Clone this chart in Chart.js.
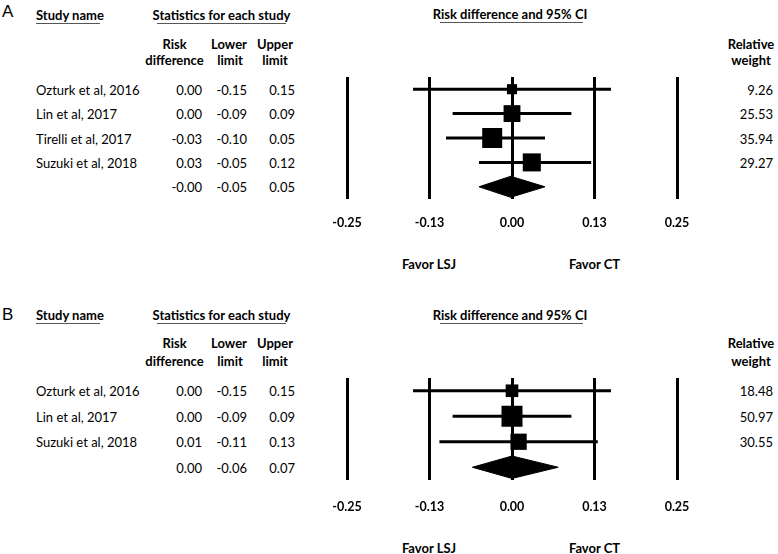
<!DOCTYPE html>
<html>
<head>
<meta charset="utf-8">
<script src="https://cdn.jsdelivr.net/npm/chart.js@4.4.1/dist/chart.umd.min.js"></script>
<style>
  html, body { margin: 0; padding: 0; background: #fff; }
  #page { position: relative; width: 778px; height: 554px; overflow: hidden;
          font-family: Lato, "Open Sans", sans-serif; color: #000; }
  .t { position: absolute; white-space: nowrap; line-height: 1; font-size: 13px;
       transform: translateY(-50%); }
  .b { font-weight: bold; }
  .letter { font-family: "Liberation Sans", Arial, sans-serif; font-size: 17px; }
  .rule { position: absolute; height: 1px; background: #555; }
  canvas { position: absolute; }
</style>
</head>
<body>
<div id="page"></div>
<script>
"use strict";

// ---- panel A ----
const studiesA = ["Ozturk et al, 2016", "Lin et al, 2017", "Tirelli et al, 2017", "Suzuki et al, 2018"];
const riskDiffA = [0.00, 0.00, -0.03, 0.03];
const lowerA = [-0.15, -0.09, -0.10, -0.05];
const upperA = [0.15, 0.09, 0.05, 0.12];
const weightA = [9.26, 25.53, 35.94, 29.27];
const pooledA = { est: -0.002, lower: -0.05, upper: 0.05 };

// ---- panel B ----
const studiesB = ["Ozturk et al, 2016", "Lin et al, 2017", "Suzuki et al, 2018"];
const riskDiffB = [0.00, 0.00, 0.01];
const lowerB = [-0.15, -0.09, -0.11];
const upperB = [0.15, 0.09, 0.13];
const weightB = [18.48, 50.97, 30.55];
const pooledB = { est: 0.00, lower: -0.06, upper: 0.07 };

// shared axis
const tickValues = [-0.25, -0.125, 0, 0.125, 0.25];
const tickLabels = ["-0.25", "-0.13", "0.00", "0.13", "0.25"];
const favorLabels = ["Favor LSJ", "Favor CT"];

const page = document.getElementById("page");
const W = 778;

function txt(x, y, s, align, cls) {
  const el = document.createElement("div");
  el.className = "t" + (cls ? " " + cls : "");
  el.textContent = s;
  el.style.top = y + "px";
  if (align === "right") {
    el.style.right = (W - x) + "px";
  } else if (align === "center") {
    el.style.left = x + "px";
    el.style.transform = "translate(-50%, -50%)";
  } else {
    el.style.left = x + "px";
  }
  page.appendChild(el);
  return el;
}

function rule(x1, x2, y) {
  const el = document.createElement("div");
  el.className = "rule";
  el.style.left = x1 + "px";
  el.style.width = (x2 - x1) + "px";
  el.style.top = y + "px";
  page.appendChild(el);
}

// --------------------------------------------------------------------- //
// one forest panel: table text in HTML, plot through Chart.js            //
// --------------------------------------------------------------------- //

function buildPanel(g, d) {
  const n = d.studies.length;
  const rowH = (g.lineBottom - g.lineTop) / (n + 1);
  const rowY = (i) => g.lineTop + (i + 0.5) * rowH + 0.6;

  txt(2, g.letterY, g.letter, "left", "letter");
  txt(36, g.titleY, "Study name", "left", "b");
  txt(221.5, g.titleY, "Statistics for each study", "center", "b");
  txt(510, g.titleY - 0.5, "Risk difference and 95% CI", "center", "b");
  rule(36, 100, g.titleY + 8);
  rule(157, 286, g.titleY + 8);
  rule(440, 583, g.titleY + 7.5);

  txt(174.5, g.headY1, "Risk", "center", "b");
  txt(174.5, g.headY2, "difference", "center", "b");
  txt(229, g.headY1, "Lower", "center", "b");
  txt(230, g.headY2, "limit", "center", "b");
  txt(275, g.headY1, "Upper", "center", "b");
  txt(275, g.headY2, "limit", "center", "b");
  txt(751, g.headY1, "Relative", "center", "b");
  txt(751, g.headY2, "weight", "center", "b");

  for (let i = 0; i < n; i++) {
    const y = rowY(i);
    txt(36, y, d.studies[i], "left");
    txt(202, y, d.rd[i].toFixed(2), "right");
    txt(247, y, d.lo[i].toFixed(2), "right");
    txt(295, y, d.hi[i].toFixed(2), "right");
    txt(773, y, d.w[i].toFixed(2), "right");
  }
  const yp = rowY(n);
  txt(202, yp, d.pooled.est.toFixed(2), "right");
  txt(247, yp, d.pooled.lower.toFixed(2), "right");
  txt(295, yp, d.pooled.upper.toFixed(2), "right");

  txt(429, g.favorY, favorLabels[0], "center", "b");
  txt(594.5, g.favorY, favorLabels[1], "center", "b");

  // plot canvas: chart area pinned to the vertical lines
  const padTop = 17;
  const cTop = g.lineTop - padTop;
  const lineBottomCanvas = g.lineBottom - cTop;
  const tickSize = 12.5;
  const tickPad = g.tickY - g.lineBottom - tickSize * 0.6;
  const axisH = tickPad + tickSize * 1.2;
  const padBottom = 6;
  const cH = Math.ceil(lineBottomCanvas + axisH + padBottom);

  const cv = document.createElement("canvas");
  cv.width = 424; cv.height = cH;
  cv.style.left = "300px"; cv.style.top = cTop + "px";
  cv.style.width = "424px"; cv.style.height = cH + "px";
  page.appendChild(cv);

  const wMax = Math.max(...d.w);
  const radii = d.w.map((w) => (g.maxSide * Math.sqrt(w / wMax)) / (2 * Math.SQRT1_2));

  const datasets = [
    {
      data: d.rd.map((v, i) => ({ x: v, y: i })),
      pointStyle: "rect",
      pointRadius: radii,
      backgroundColor: "#000",
      borderWidth: 0,
      showLine: false,
    },
    {
      data: [
        { x: d.pooled.lower, y: n },
        { x: d.pooled.est, y: n - g.diamond },
        { x: d.pooled.upper, y: n },
        { x: d.pooled.est, y: n + g.diamond },
        { x: d.pooled.lower, y: n },
      ],
      showLine: true,
      fill: "shape",
      backgroundColor: "#000",
      borderColor: "#000",
      borderWidth: 1,
      pointRadius: 0,
    },
  ];
  for (let i = 0; i < n; i++) {
    datasets.push({
      data: [{ x: d.lo[i], y: i }, { x: d.hi[i], y: i }],
      showLine: true,
      borderColor: "#000",
      borderWidth: 3,
      pointRadius: 0,
    });
  }

  new Chart(cv, {
    type: "scatter",
    data: { datasets },
    options: {
      responsive: false,
      animation: false,
      events: [],
      layout: { padding: { left: 47, right: 47, top: padTop, bottom: cH - lineBottomCanvas - axisH } },
      plugins: { legend: { display: false }, tooltip: { enabled: false } },
      scales: {
        x: {
          type: "linear",
          min: tickValues[0],
          max: tickValues[tickValues.length - 1],
          afterBuildTicks: (s) => { s.ticks = tickValues.map((v) => ({ value: v })); },
          // fit() doubles the tick padding; pin the axis height instead
          afterFit: (s) => { s.height = axisH; },
          ticks: {
            callback: (v, i) => tickLabels[i],
            color: "#000",
            font: { family: "Lato", size: tickSize, weight: "bold" },
            padding: tickPad,
            maxRotation: 0,
            autoSkip: false,
          },
          grid: { color: "#000", lineWidth: 3, drawTicks: false },
          border: { display: false },
        },
        y: { type: "linear", min: -0.5, max: n + 0.5, reverse: true, display: false },
      },
    },
  });
}

buildPanel(
  { letter: "A", letterY: 11, titleY: 14.5, headY1: 44, headY2: 60,
    lineTop: 77, lineBottom: 199, tickY: 223, favorY: 264, maxSide: 20, diamond: 0.43 },
  { studies: studiesA, rd: riskDiffA, lo: lowerA, hi: upperA, w: weightA, pooled: pooledA }
);
buildPanel(
  { letter: "B", letterY: 314, titleY: 315, headY1: 343, headY2: 360.5,
    lineTop: 378, lineBottom: 480, tickY: 507, favorY: 548, maxSide: 21, diamond: 0.44 },
  { studies: studiesB, rd: riskDiffB, lo: lowerB, hi: upperB, w: weightB, pooled: pooledB }
);
</script>
</body>
</html>
